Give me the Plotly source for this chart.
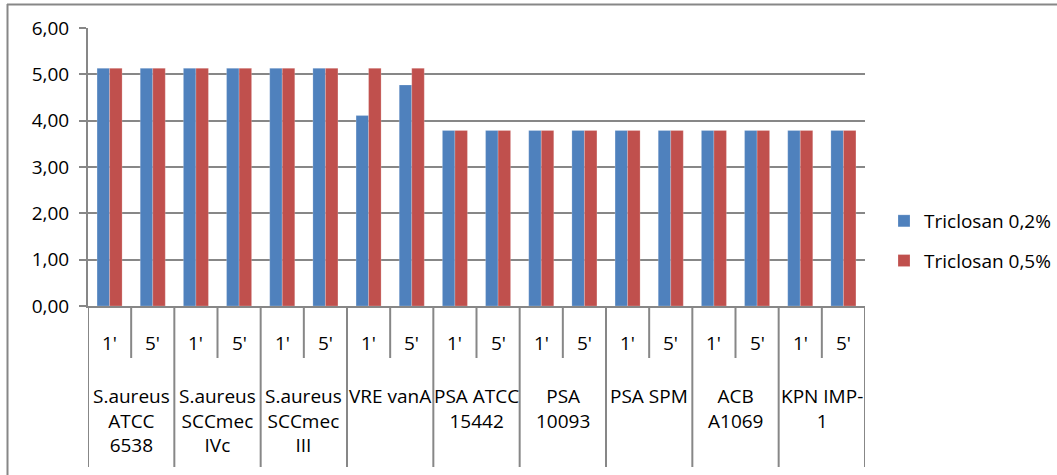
import plotly.graph_objects as go

# Strains (outer category level) and contact times (inner level)
strains = [
    "S.aureus<br>ATCC<br>6538",
    "S.aureus<br>SCCmec<br>IVc",
    "S.aureus<br>SCCmec<br>III",
    "VRE vanA",
    "PSA ATCC<br>15442",
    "PSA<br>10093",
    "PSA SPM",
    "ACB<br>A1069",
    "KPN IMP-<br>1",
]
times = ["1'", "5'"]

# Log reduction per strain/time pair, in strain order (1', 5')
triclosan_02 = [5.13, 5.13, 5.13, 5.13, 5.13, 5.13, 4.11, 4.77,
                3.79, 3.79, 3.79, 3.79, 3.79, 3.79, 3.79, 3.79, 3.79, 3.79]
triclosan_05 = [5.13, 5.13, 5.13, 5.13, 5.13, 5.13, 5.13, 5.13,
                3.79, 3.79, 3.79, 3.79, 3.79, 3.79, 3.79, 3.79, 3.79, 3.79]

y_ticks = [0, 1, 2, 3, 4, 5, 6]

FONT = "Open Sans"
FS = 19
GRID = "#878787"
TXT = "#000000"

n = len(strains) * len(times)
xpos = list(range(n))

fig = go.Figure()
fig.add_trace(go.Bar(x=xpos, y=triclosan_02, name="Triclosan 0,2%",
                     marker=dict(color="#4F81BD", line=dict(color="rgba(255,255,255,0.35)", width=0.6)),
                     legendgroup="a"))
fig.add_trace(go.Bar(x=xpos, y=triclosan_05, name="Triclosan 0,5%",
                     marker=dict(color="#C0504D", line=dict(color="rgba(255,255,255,0.35)", width=0.6)),
                     legendgroup="b"))

W, H = 1057, 475
L, R, T, B = 88, 192, 28, 169
pw, ph = W - L - R, H - T - B


def py(pix):
    """Pixel row -> paper y."""
    return (H - B - pix) / ph


def px(pix):
    """Pixel column -> paper x."""
    return (pix - L) / pw


shapes = []
annotations = []
line = dict(color=GRID, width=2)

# Short dividers between 1' and 5', long dividers between strains
for i in range(n + 1):
    xb = i - 0.5
    y1 = py(358) if i % 2 == 1 else py(467)
    shapes.append(dict(type="line", xref="x", yref="paper", x0=xb, x1=xb,
                       y0=0, y1=y1, line=line, layer="above"))

# Inner labels (contact time)
for i in range(n):
    annotations.append(dict(x=i, y=py(343), xref="x", yref="paper",
                            text=times[i % 2], showarrow=False,
                            xanchor="center", yanchor="middle",
                            font=dict(family=FONT, size=FS, color=TXT)))

# Outer labels (strain)
for k, s in enumerate(strains):
    annotations.append(dict(x=2 * k + 0.5, y=py(381), xref="x", yref="paper",
                            text=s, showarrow=False,
                            xanchor="center", yanchor="top", align="center",
                            font=dict(family=FONT, size=FS, color=TXT)))

# Chart frame (top and left edges)
shapes.append(dict(type="line", xref="paper", yref="paper",
                   x0=px(7), x1=px(1060), y0=py(4.5), y1=py(4.5), line=line))
shapes.append(dict(type="line", xref="paper", yref="paper",
                   x0=px(7.5), x1=px(7.5), y0=py(4), y1=py(480), line=line))

fig.update_layout(
    width=W, height=H,
    margin=dict(l=L, r=R, t=T, b=B, autoexpand=False),
    paper_bgcolor="white", plot_bgcolor="white",
    separators=",.",
    barmode="group", bargap=0.42, bargroupgap=0,
    font=dict(family=FONT, size=FS, color=TXT),
    showlegend=True,
    legend=dict(x=px(884), y=py(202), xanchor="left", yanchor="top",
                tracegroupgap=12, itemwidth=30,
                font=dict(family=FONT, size=FS, color=TXT),
                bgcolor="rgba(0,0,0,0)"),
    shapes=shapes,
    annotations=annotations,
)

fig.update_xaxes(range=[-0.5, n - 0.5], showticklabels=False, showgrid=False,
                 zeroline=False, showline=True, linecolor=GRID, linewidth=2,
                 ticks="")
fig.update_yaxes(range=[0, 6], tickvals=y_ticks, tickformat=".2f",
                 showgrid=True, gridcolor=GRID, gridwidth=2,
                 zeroline=False, showline=True, linecolor=GRID, linewidth=2,
                 ticks="outside", ticklen=7, tickwidth=2, tickcolor=GRID,
                 ticklabelstandoff=6,
                 tickfont=dict(family=FONT, size=FS, color=TXT))

fig.write_html("out.html")
